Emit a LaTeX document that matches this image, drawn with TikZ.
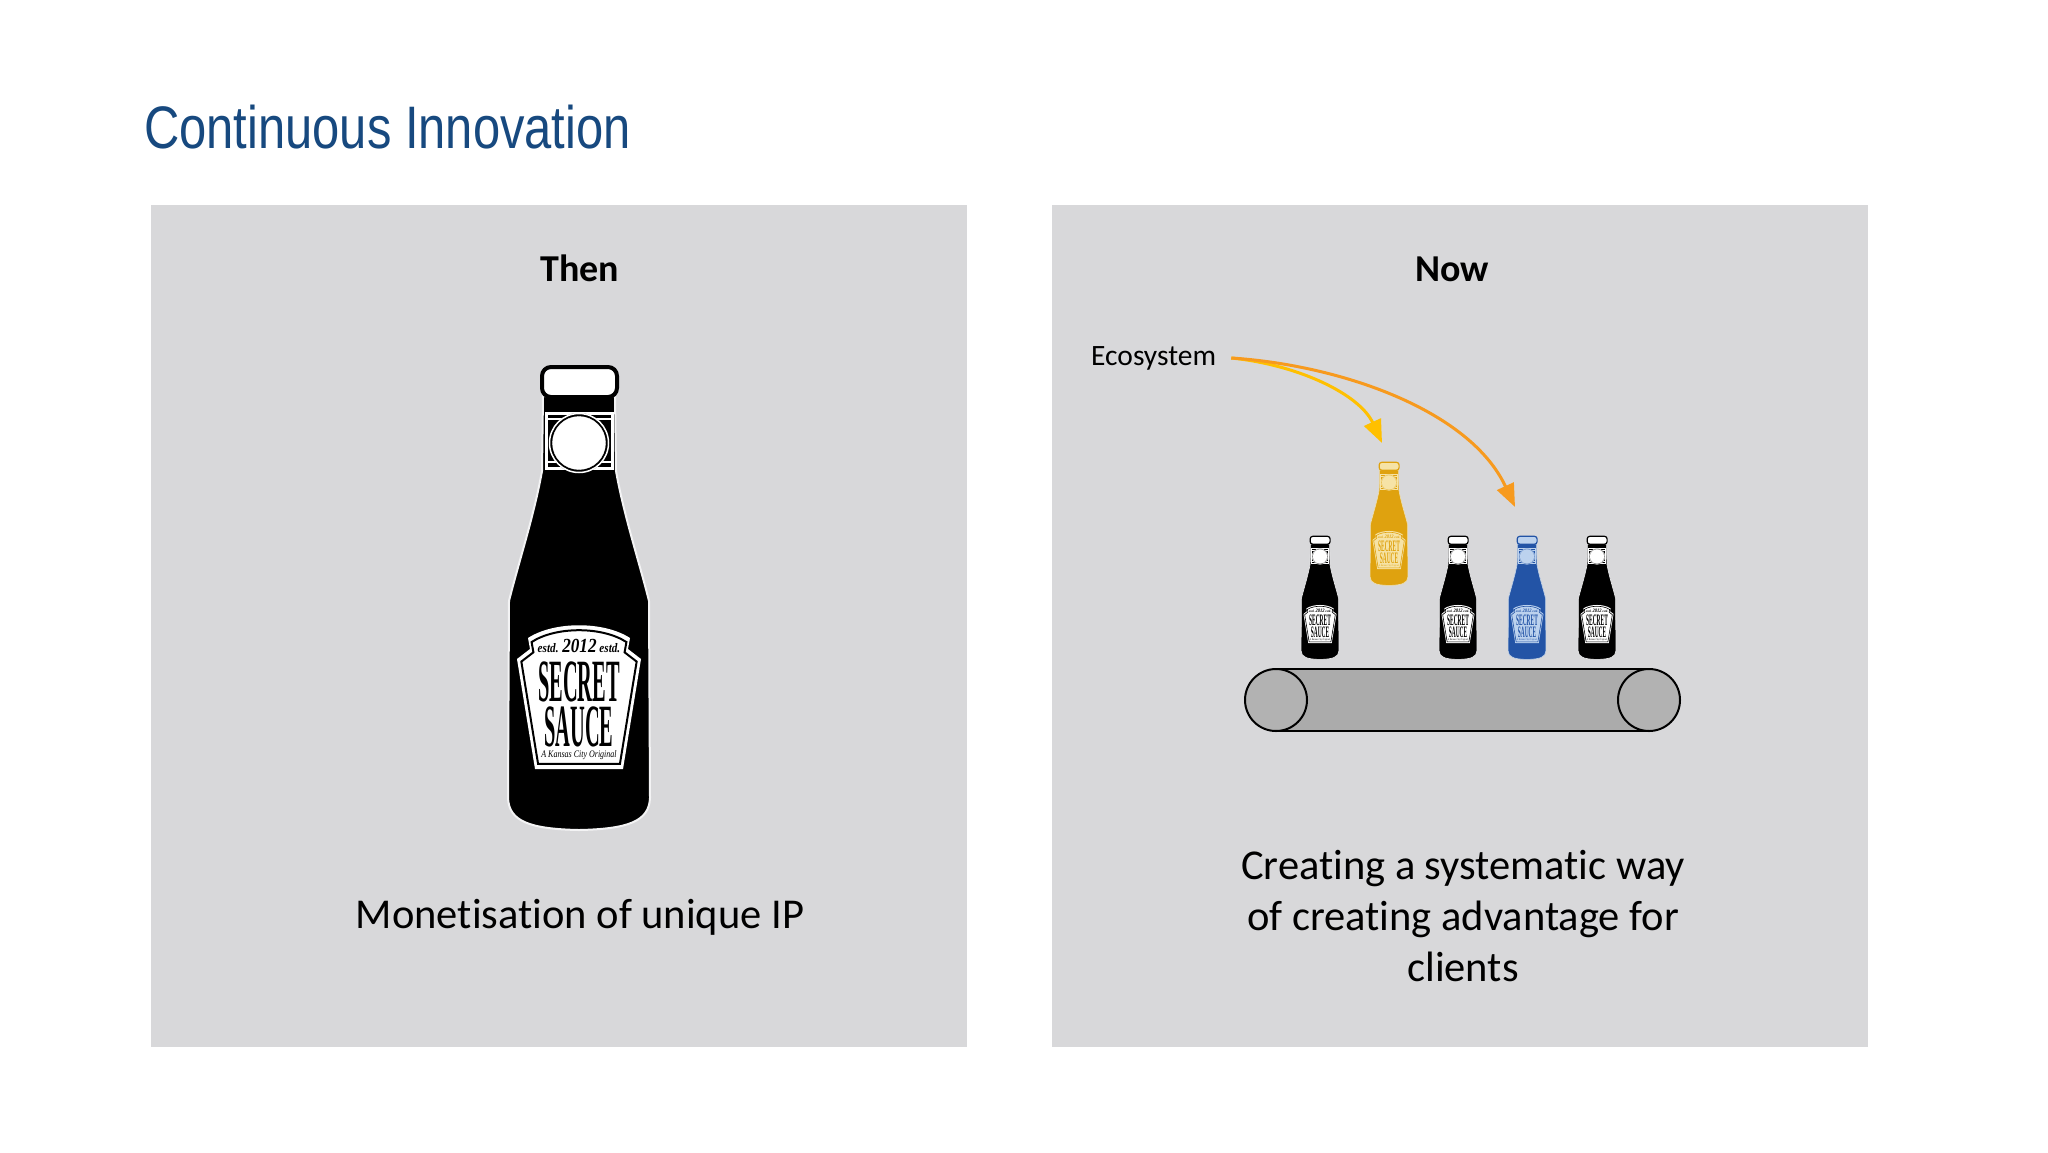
\documentclass[tikz,border=0pt]{standalone}
\usepackage{fontspec}
\setmainfont{Carlito}[Ligatures=NoCommon]
\newfontfamily\titlefont{Liberation Sans}
\newfontfamily\labelfont{Liberation Serif}
\usepackage{xcolor}
\definecolor{titleblue}{HTML}{17497F}
\definecolor{panelgrey}{HTML}{D8D8DA}
\definecolor{beltgrey}{HTML}{ABABAB}
\definecolor{sauceyellow}{HTML}{DFA20F}
\definecolor{lightyellow}{HTML}{F6E3A6}
\definecolor{sauceblue}{HTML}{2354A6}
\definecolor{lightblue}{HTML}{BCD2EE}
\definecolor{arrowyellow}{HTML}{FFC000}
\definecolor{arroworange}{HTML}{F79A1E}
\usetikzlibrary{arrows.meta, positioning}

\newcommand{\labelshape}{(-51,272) .. controls (-25,255) and (25,255) .. (51,272) -- (49,283) -- (62,293) -- (44,403) -- (-44,403) -- (-62,293) -- (-49,283) -- cycle}

\tikzset{
  panel/.style={fill=panelgrey, draw=none, minimum width=816pt, minimum height=842pt, inner sep=0pt, outer sep=0pt},
  heading/.style={font=\bfseries\fontsize{38}{44}\selectfont, inner sep=0pt},
  caption/.style={font=\fontsize{42.5}{51}\selectfont, align=center, inner sep=0pt},
  pulley/.style={circle, draw=black, fill=beltgrey!92!white, line width=2pt, minimum size=62pt, inner sep=0pt, outer sep=0pt},
  pics/bottle/.style n args={3}{code={
    % Body
    \path[fill=#1, draw=#2!70!panelgrey, line width=#3*2pt] (-36,30) -- (-37,105) .. controls (-45,150) and (-60,195) .. (-70,235) -- (-71,432) .. controls (-70,455) and (-50,463) .. (0,464) .. controls (50,463) and (70,455) .. (71,432) -- (70,235) .. controls (60,195) and (45,150) .. (37,105) -- (36,30) -- cycle;
    % Cap
    \draw[fill=#2, draw=#1, line width=#3*4pt, rounded corners=#3*9pt] (-37,1) rectangle (38,31);
    % Neck label
    \draw[draw=#2, line width=#3*3pt] (-33,47) rectangle (33,102);
    \draw[draw=#2, line width=#3*2pt] (-33,53) -- (33,53) (-33,96) -- (33,96);
    \path[fill=#1] (0,77) circle[radius=30];
    \draw[fill=#2, draw=#2] (0,77) circle[radius=26.5];
    \draw[draw=#2, line width=#3*1.5pt] (0,77) circle[radius=29.5];
    % Front label
    \path[fill=#2] \labelshape;
    \begin{scope}[shift={(0,330)}, scale=.93, shift={(0,-330)}]
      \draw[draw=#1, line width=#3*2pt] \labelshape;
    \end{scope}
    \node[transform shape, text=#1, inner sep=0pt, xscale=.86, font=\labelfont\itshape\bfseries\fontsize{13}{13}\selectfont] (-estd) at (0,280) {estd. {\fontsize{20}{20}\selectfont 2012} estd.};
    \node[transform shape, text=#1, inner sep=0pt, xscale=.34, font=\labelfont\bfseries\fontsize{60}{60}\selectfont] (-secret) at (0,316) {SECRET};
    \node[transform shape, text=#1, inner sep=0pt, xscale=.34, font=\labelfont\bfseries\fontsize{60}{60}\selectfont] (-sauce) at (0,361) {SAUCE};
    \node[transform shape, text=#1, inner sep=0pt, xscale=.8, font=\labelfont\itshape\fontsize{10}{10}\selectfont] (-origin) at (0,389) {A Kansas City Original};
  }}
}

\begin{document}
\begin{tikzpicture}[x=1pt, y=-1pt]
    \useasboundingbox[fill=white] (0,0) rectangle (2048,1152);

    % Title
    \node[text=titleblue, anchor=west, inner sep=0pt, xscale=.815, font=\titlefont\fontsize{60}{60}\selectfont] (title) at (144,127) {Continuous Innovation};

    % Panels
    \node[panel, anchor=north west] (thenpanel) at (151,205) {};
    \node[panel, anchor=north west] (nowpanel) at (1052,205) {};

    % Left side
    \node[heading] (thenhead) at (580,268) {Then};
    \pic (bigbottle) at (579,366) {bottle={black}{white}{1}};
    \node[caption] (thentext) at (580,917) {Monetisation of unique IP};

    % Right side
    \node[heading] (nowhead) at (1452,269) {Now};
    \node[inner sep=0pt, anchor=west, font=\fontsize{29.5}{34}\selectfont] (ecosystem) at (1091,358) {Ecosystem};
    \node[caption] (nowtext) at (1463,916) {Creating a systematic way\\of creating advantage for\\clients};

    % Bottles on the belt
    \pic[scale=.266] (bottleone) at (1320,536) {bottle={black}{white}{.3}};
    \pic[scale=.266] (bottletwo) at (1458,536) {bottle={black}{white}{.3}};
    \pic[scale=.266] (bottleblue) at (1527,536) {bottle={sauceblue}{lightblue}{.3}};
    \pic[scale=.266] (bottlethree) at (1597,536) {bottle={black}{white}{.3}};
    \pic[scale=.266] (bottleyellow) at (1389,462) {bottle={sauceyellow}{lightyellow}{.3}};

    % Belt
    \node[fill=beltgrey, minimum width=373pt, minimum height=62pt, inner sep=0pt] (belt) at (1462,700) {};
    \node[pulley] (leftpulley) at (1276,700) {};
    \node[pulley] (rightpulley) at (1649,700) {};
    \draw[line width=2pt] (leftpulley.north) -- (rightpulley.north);
    \draw[line width=2pt] (leftpulley.south) -- (rightpulley.south);

    % Arrows
    \coordinate[right=15pt of ecosystem] (ecostart);
    \coordinate (yellowdrop) at (1382,443);
    \coordinate (bluedrop) at (1515,507);
    \draw[-{Triangle[length=23pt, width=18pt]}, arrowyellow, line width=3pt] (ecostart) .. controls (1300,365) and (1360,395) .. (yellowdrop);
    \draw[-{Triangle[length=23pt, width=18pt]}, arroworange, line width=3pt] (ecostart) .. controls (1340,365) and (1470,410) .. (bluedrop);
  \end{tikzpicture}
\end{document}
